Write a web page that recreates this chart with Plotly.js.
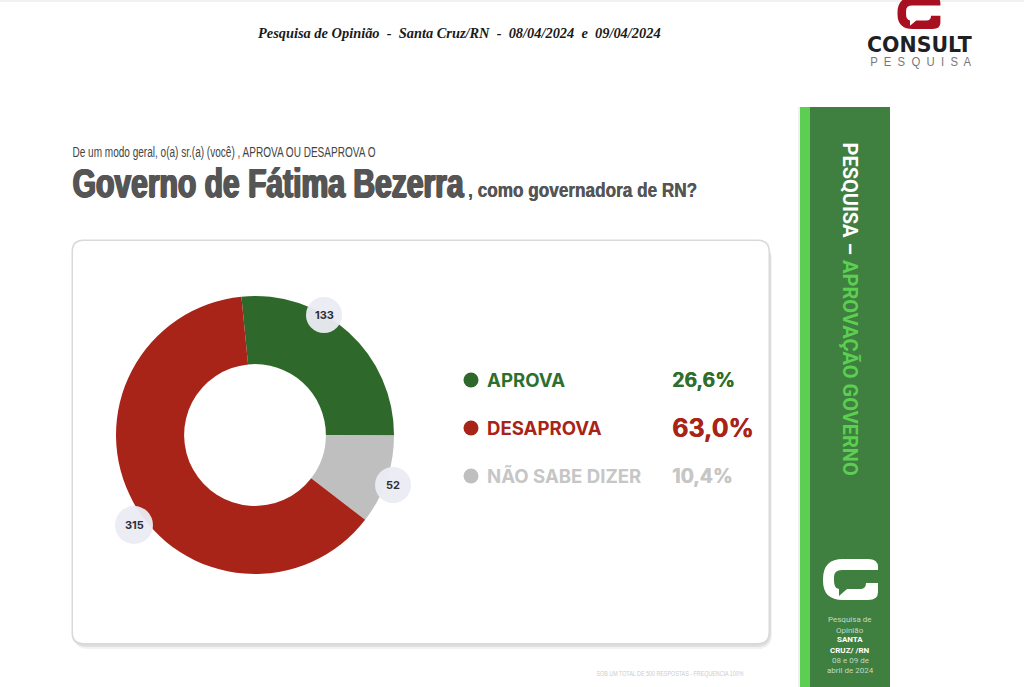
<!DOCTYPE html>
<html>
<head>
<meta charset="utf-8">
<script src="https://cdn.plot.ly/plotly-3.0.1.min.js"></script>
<style>html, body { margin: 0; padding: 0; background: #fff; }</style>
</head>
<body>
<div id="chart" style="width:1024px;height:687px"></div>
<script>
const categories = ["APROVA", "DESAPROVA", "NÃO SABE DIZER"]
const respostas = [133, 315, 52]
const percentuais = ["26,6%", "63,0%", "10,4%"]
const cores = ["#2e682b", "#a82418", "#bfbfbf"]
const corTexto = ["#2e6f2e", "#a82418", "#c6c6c6"]
// the ring runs green, grey, red while the legend runs green, red, grey
const ordemAnel = [0, 2, 1]

const W = 1024, H = 687
const SANS = "'Liberation Sans', sans-serif"

// pixel helper, the hidden axes run 0..1024 and 687..0
function text(x, y, txt, size, color, family, extra) {
    const a = Object.assign({
        x: x, y: y, xref: "x", yref: "y", text: txt, showarrow: false,
        xanchor: "left", yanchor: "middle"
    }, extra || {})
    a.font = Object.assign({size: size, color: color, family: family}, a.font || {})
    return a
}

function roundRect(x0, y0, x1, y1, r) {
    return `M${x0 + r},${y0} L${x1 - r},${y0} Q${x1},${y0} ${x1},${y0 + r} L${x1},${y1 - r} Q${x1},${y1} ${x1 - r},${y1} L${x0 + r},${y1} Q${x0},${y1} ${x0},${y1 - r} L${x0},${y0 + r} Q${x0},${y0} ${x0 + r},${y0} Z`
}

function logoPath(x, y, s) {
    const p = (a, b) => `${x + a * s},${y + b * s}`
    return `M${p(55, 11)} L${p(55, 8)} Q${p(55, 0)} ${p(45, 0)} L${p(20, 0)} Q${p(0, 0)} ${p(0, 20)} L${p(0, 22)} Q${p(0, 41)} ${p(20, 41)} ` +
        `L${p(45, 41)} Q${p(55, 41)} ${p(55, 33)} L${p(55, 24)} L${p(43, 24)} Q${p(43, 30)} ${p(37, 30)} L${p(24, 30)} L${p(16, 37)} L${p(16, 30)} ` +
        `Q${p(11, 29)} ${p(11, 22)} L${p(11, 18)} Q${p(11, 11)} ${p(19, 11)} Z`
}

function pathShape(path, fill, layer) {
    return {type: "path", xref: "x", yref: "y", path: path, fillcolor: fill, line: {width: 0}, layer: layer || "below"}
}

function rect(x0, y0, x1, y1, fill) {
    return {type: "rect", xref: "x", yref: "y", x0: x0, y0: y0, x1: x1, y1: y1, fillcolor: fill, line: {width: 0}, layer: "below"}
}

// donut geometry
const cx = 255, cy = 435, raio = 139

const donut = {
    type: "pie",
    labels: ordemAnel.map(i => categories[i]),
    values: ordemAnel.map(i => respostas[i]),
    sort: false,
    direction: "clockwise",
    rotation: -5.6,
    hole: 0.51,
    textinfo: "none",
    textposition: "none",
    hoverinfo: "none",
    marker: {colors: ordemAnel.map(i => cores[i]), line: {width: 0}},
    domain: {
        x: [(cx - raio) / W, (cx + raio) / W],
        y: [1 - (cy + raio) / H, 1 - (cy - raio) / H]
    },
    showlegend: false
}

const legendaY = [380, 428, 476]
const pontos = {
    type: "scatter",
    mode: "markers",
    x: categories.map(() => 471),
    y: legendaY,
    marker: {size: 15, color: cores},
    hoverinfo: "none",
    showlegend: false
}

// bubbles sit on the outer edge of the ring
const bolhaX = [324, 134, 393]
const bolhaY = [315, 525, 485]
const bolhaR = [18, 19, 18]

const shapes = [
    rect(0, 0, W, 2, "#f1f1f1"),
    pathShape(roundRect(74, 246, 772, 649, 14), "rgba(0,0,0,0.05)"),
    pathShape(roundRect(73, 243, 771, 647, 14), "rgba(0,0,0,0.08)"),
    pathShape(roundRect(71.5, 239.5, 770, 645, 12), "#d9d9d9"),
    pathShape(roundRect(73, 241, 768.5, 643, 11), "#ffffff"),
    rect(798, 107, 800, H, "#f0f0f0"),
    rect(800, 107, 890, H, "#3f7f3f"),
    rect(800, 107, 810, H, "#5ccf52"),
    pathShape(logoPath(897.5, -3, 0.78), "#a80f20"),
    pathShape(logoPath(823, 559, 1), "#ffffff")
]

bolhaX.forEach((x, i) => {
    shapes.push({
        type: "circle", xref: "x", yref: "y", layer: "above",
        x0: x - bolhaR[i], x1: x + bolhaR[i], y0: bolhaY[i] - bolhaR[i], y1: bolhaY[i] + bolhaR[i],
        fillcolor: "rgba(234,235,244,0.96)", line: {width: 0}
    })
})

const subtitulo = "De um modo geral, o(a) sr.(a) (você) , APROVA OU DESAPROVA O"
const titulo = "Governo de Fátima Bezerra"
const tituloFim = ", como governadora de RN?"
const nota = "SOB UM TOTAL DE 500 RESPOSTAS - FREQUENCIA 100%"
const marca = "P  E  S  Q  U  I  S  A"

const annotations = [
    text(459.5, 33, "Pesquisa de Opinião  -  Santa Cruz/RN  -  08/04/2024  e  09/04/2024", 14.4, "#1a1a1a", "'Liberation Serif', serif",
        {xanchor: "center", font: {weight: 700, style: "italic"}}),
    text(919.5, 44.5, "CONSULT", 20.5, "#1f1f24", "'DejaVu Sans', sans-serif", {xanchor: "center", font: {weight: 700}}),
    text(920.5, 62, marca, 12.5, "#777777", SANS, {xanchor: "center", width: 104}),
    text(223.5, 152, subtitulo, 14, "#444444", SANS, {xanchor: "center", width: 306}),
    text(268.5, 183, titulo, 40, "#555555", SANS,
        {xanchor: "center", width: 393, font: {weight: 700, shadow: "1.2px 0 0 #555555, -1.2px 0 0 #555555, 0 0.6px 0 #555555"}}),
    text(582.5, 190, tituloFim, 20, "#555555", SANS, {xanchor: "center", width: 231, font: {weight: 700, shadow: "0.4px 0 0 #555555"}}),
    text(669.5, 673, nota, 8, "#cccccc", SANS, {xanchor: "center", width: 150}),
    text(850, 308.5, "<b>PESQUISA – <span style=\"color:#5ccf52\">APROVAÇÃO GOVERNO</span></b>", 20, "#ffffff", "Roboto, sans-serif",
        {xanchor: "center", textangle: 90}),
]

const rodape = ["Pesquisa de", "Opinião", "<b>SANTA</b>", "<b>CRUZ/ /RN</b>", "08 e 09 de", "abril de 2024"]
const rodapeY = [619, 630, 639, 650, 660, 670]
rodape.forEach((linha, i) => {
    annotations.push(text(850, rodapeY[i], linha, 8, i == 2 || i == 3 ? "#ffffff" : "#c4d9c4", "Roboto, sans-serif", {xanchor: "center"}))
})

const tamanhoPct = [19.5, 25, 19.5]
categories.forEach((nome, i) => {
    annotations.push(text(485, legendaY[i], nome, 18.6, corTexto[i], "Inter, sans-serif", {font: {weight: 700}}))
    annotations.push(text(670, legendaY[i], percentuais[i], tamanhoPct[i], corTexto[i], "Inter, sans-serif",
        {font: {weight: 700, shadow: `0.5px 0 0 ${corTexto[i]}`}}))
    annotations.push(text(bolhaX[i], bolhaY[i], `<b>${respostas[i]}</b>`, 11, "#2f2f35", "Inter, sans-serif", {xanchor: "center"}))
})

const layout = {
    width: W,
    height: H,
    margin: {l: 0, r: 0, t: 0, b: 0},
    paper_bgcolor: "#ffffff",
    plot_bgcolor: "rgba(0,0,0,0)",
    showlegend: false,
    xaxis: {range: [0, W], visible: false, fixedrange: true},
    yaxis: {range: [H, 0], visible: false, fixedrange: true},
    shapes: shapes,
    annotations: annotations
}

// no condensed face is installed, so squeeze these texts to the widths in the picture
const larguras = [[subtitulo, 303], [titulo, 391], [tituloFim, 229], [nota, 147], [marca, 101]]

Plotly.newPlot("chart", [pontos, donut], layout, {displayModeBar: false, staticPlot: true}).then(function() {
    for(let el of document.querySelectorAll(".annotation-text")) {
        for(let par of larguras) {
            if(el.textContent.replace(/\s+/g, " ") == par[0].replace(/\s+/g, " ")) {
                el.setAttribute("textLength", par[1])
                el.setAttribute("lengthAdjust", "spacingAndGlyphs")
            }
        }
    }
})
</script>
</body>
</html>
